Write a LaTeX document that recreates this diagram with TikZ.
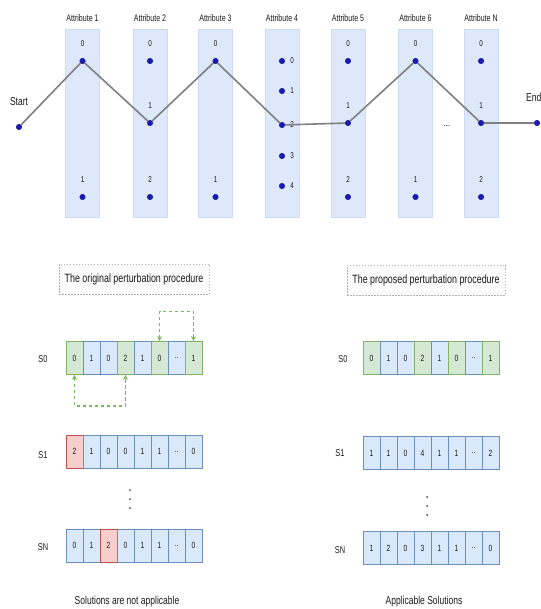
\documentclass[tikz,border=0pt]{standalone}
\usepackage{fontspec}
\setmainfont{Liberation Sans}[FakeStretch=0.74]
\usetikzlibrary{arrows.meta}
\definecolor{colfill}{HTML}{DDE9FA}
\definecolor{bfill}{HTML}{DAE8FC}
\definecolor{bdraw}{HTML}{6C8EBF}
\definecolor{gfill}{HTML}{D5E8D4}
\definecolor{gdraw}{HTML}{82B366}
\definecolor{rfill}{HTML}{F8CECC}
\definecolor{rdraw}{HTML}{B85450}
\definecolor{dotblue}{HTML}{1A1AB8}
\definecolor{routegray}{HTML}{7F7F7F}
\definecolor{txt}{HTML}{1A1A1A}
\newcommand\vtx[4]{\node[vdot] (#1) at (#2,#3) {}; \node[dig] (#1l) at (#2,#3-17) {#4};}
\newcommand\vtxr[4]{\node[vdot] (#1) at (#2,#3) {}; \node[dig] (#1l) at (#2+10,#3) {#4};}
\newcommand\celldots{\raisebox{-1.5pt}{..}}
\begin{document}
\begin{tikzpicture}[x=1pt,y=-1pt,
  colbox/.style={rectangle,fill=colfill,draw=colfill!85!bdraw,line width=0.3pt,minimum width=34pt,minimum height=188pt,inner sep=0pt},
  attr/.style={font=\fontsize{9.5}{10}\selectfont,text=txt},
  dig/.style={font=\fontsize{8.5}{9}\selectfont,text=txt,inner sep=0pt},
  vdot/.style={circle,fill=dotblue,draw=dotblue!70!black,line width=0.4pt,minimum size=5.5pt,inner sep=0pt},
  route/.style={draw=routegray,line width=1.6pt},
  endlab/.style={font=\fontsize{11.5}{12}\selectfont,text=txt},
  titlebox/.style={draw=gray!60,dashed,dash pattern=on 1.5pt off 1.5pt,fill=gray!3,line width=0.6pt,font=\fontsize{12}{13}\selectfont,text=txt,minimum height=30pt,inner sep=2pt},
  cellbase/.style={rectangle,minimum width=17pt,minimum height=33pt,inner sep=0pt,line width=0.8pt,font=\fontsize{9}{10}\selectfont,text=txt},
  gcell/.style={cellbase,fill=gfill,draw=gdraw},
  bcell/.style={cellbase,fill=bfill,draw=bdraw},
  rcell/.style={cellbase,fill=rfill,draw=rdraw},
  rowlab/.style={font=\fontsize{10}{11}\selectfont,text=txt},
  caption/.style={font=\fontsize{11.5}{12}\selectfont,text=txt},
  swap/.style={draw=gdraw!90!green,line width=1.2pt,dash pattern=on 3.5pt off 2.5pt,{Stealth[length=5pt,width=5pt]}-{Stealth[length=5pt,width=5pt]}},
  smalldot/.style={circle,fill=txt!80,minimum size=2pt,inner sep=0pt}
]
\useasboundingbox (0,0) rectangle (540,609);

% columns and attribute labels
\foreach \x/\n/\t in {82.5/1/Attribute 1,150/2/Attribute 2,215.5/3/Attribute 3,282/4/Attribute 4,348/5/Attribute 5,415.5/6/Attribute 6,481/N/Attribute N}{
  \node[colbox] (col\n) at (\x,123) {};
  \node[attr] (lab\n) at (\x,18) {\t};
}

% vertices
\vtx{a1v0}{82.5}{61}{0}
\vtx{a1v1}{82.5}{197}{1}
\vtx{a2v0}{150}{61}{0}
\vtx{a2v1}{150}{123}{1}
\vtx{a2v2}{150}{197}{2}
\vtx{a3v0}{215.5}{61}{0}
\vtx{a3v1}{215.5}{197}{1}
\vtxr{a4v0}{282}{61}{0}
\vtxr{a4v1}{282}{91}{1}
\vtxr{a4v2}{282}{125}{2}
\vtxr{a4v3}{282}{156}{3}
\vtxr{a4v4}{282}{186}{4}
\vtx{a5v0}{348}{61}{0}
\vtx{a5v1}{348}{123}{1}
\vtx{a5v2}{348}{197}{2}
\vtx{a6v0}{415.5}{61}{0}
\vtx{a6v1}{415.5}{197}{1}
\vtx{aNv0}{481}{61}{0}
\vtx{aNv1}{481}{123}{1}
\vtx{aNv2}{481}{197}{2}
\node[vdot] (start) at (19,127) {};
\node[vdot] (end) at (537,123) {};
\node[endlab] (startl) at (19,102) {Start};
\node[endlab,anchor=west,inner sep=0pt] (endl) at (526,97) {End};
\node[dig,font=\fontsize{10}{10}\selectfont] (more) at (447,126) {...};

\draw[route] (start) -- (a1v0) -- (a2v1) -- (a3v0) -- (a4v2) -- (a5v1) -- (a6v0) -- (aNv1) -- (end);

% title boxes
\node[titlebox,minimum width=150pt] (t1) at (134,279) {The original perturbation procedure};
\node[titlebox,minimum width=158pt] (t2) at (426,280) {The proposed perturbation procedure};

% left rows
\node[rowlab] (lS0) at (43,359) {S0};
\foreach \v/\s [count=\i] in {0/gcell,1/bcell,0/bcell,2/gcell,1/bcell,0/gcell,\celldots/bcell,1/gcell}
  \node[\s] (L0-\i) at ({74.5+17*(\i-1)},358) {\v};
\node[rowlab] (lS1) at (43,455) {S1};
\foreach \v/\s [count=\i] in {2/rcell,1/bcell,0/bcell,0/bcell,1/bcell,1/bcell,\celldots/bcell,0/bcell}
  \node[\s] (L1-\i) at ({74.5+17*(\i-1)},451.5) {\v};
\node[rowlab] (lSN) at (43,547) {SN};
\foreach \v/\s [count=\i] in {0/bcell,1/bcell,2/rcell,0/bcell,1/bcell,1/bcell,\celldots/bcell,0/bcell}
  \node[\s] (LN-\i) at ({74.5+17*(\i-1)},545.5) {\v};

\draw[swap] (L0-6.north) -- ++(0,-30) -| (L0-8.north);
\draw[swap] (L0-1.south) -- ++(0,31) -| (L0-4.south);

\node[smalldot] (ld1) at (130,490) {};
\node[smalldot] (ld2) at (130,499) {};
\node[smalldot] (ld3) at (130,508) {};

\node[caption] (capL) at (127,602) {Solutions are not applicable};

% right rows
\node[rowlab] (rS0) at (343,359) {S0};
\foreach \v/\s [count=\i] in {0/gcell,1/bcell,0/bcell,2/gcell,1/bcell,0/gcell,\celldots/bcell,1/gcell}
  \node[\s] (R0-\i) at ({371.5+17*(\i-1)},358) {\v};
\node[rowlab] (rS1) at (340,453) {S1};
\foreach \v/\s [count=\i] in {1/bcell,1/bcell,0/bcell,4/bcell,1/bcell,1/bcell,\celldots/bcell,2/bcell}
  \node[\s] (R1-\i) at ({371.5+17*(\i-1)},453) {\v};
\node[rowlab] (rSN) at (340,550) {SN};
\foreach \v/\s [count=\i] in {1/bcell,2/bcell,0/bcell,3/bcell,1/bcell,1/bcell,\celldots/bcell,0/bcell}
  \node[\s] (RN-\i) at ({371.5+17*(\i-1)},548) {\v};

\node[smalldot] (rd1) at (427,497) {};
\node[smalldot] (rd2) at (427,506) {};
\node[smalldot] (rd3) at (427,515) {};

\node[caption] (capR) at (424,602) {Applicable Solutions};
\end{tikzpicture}
\end{document}
